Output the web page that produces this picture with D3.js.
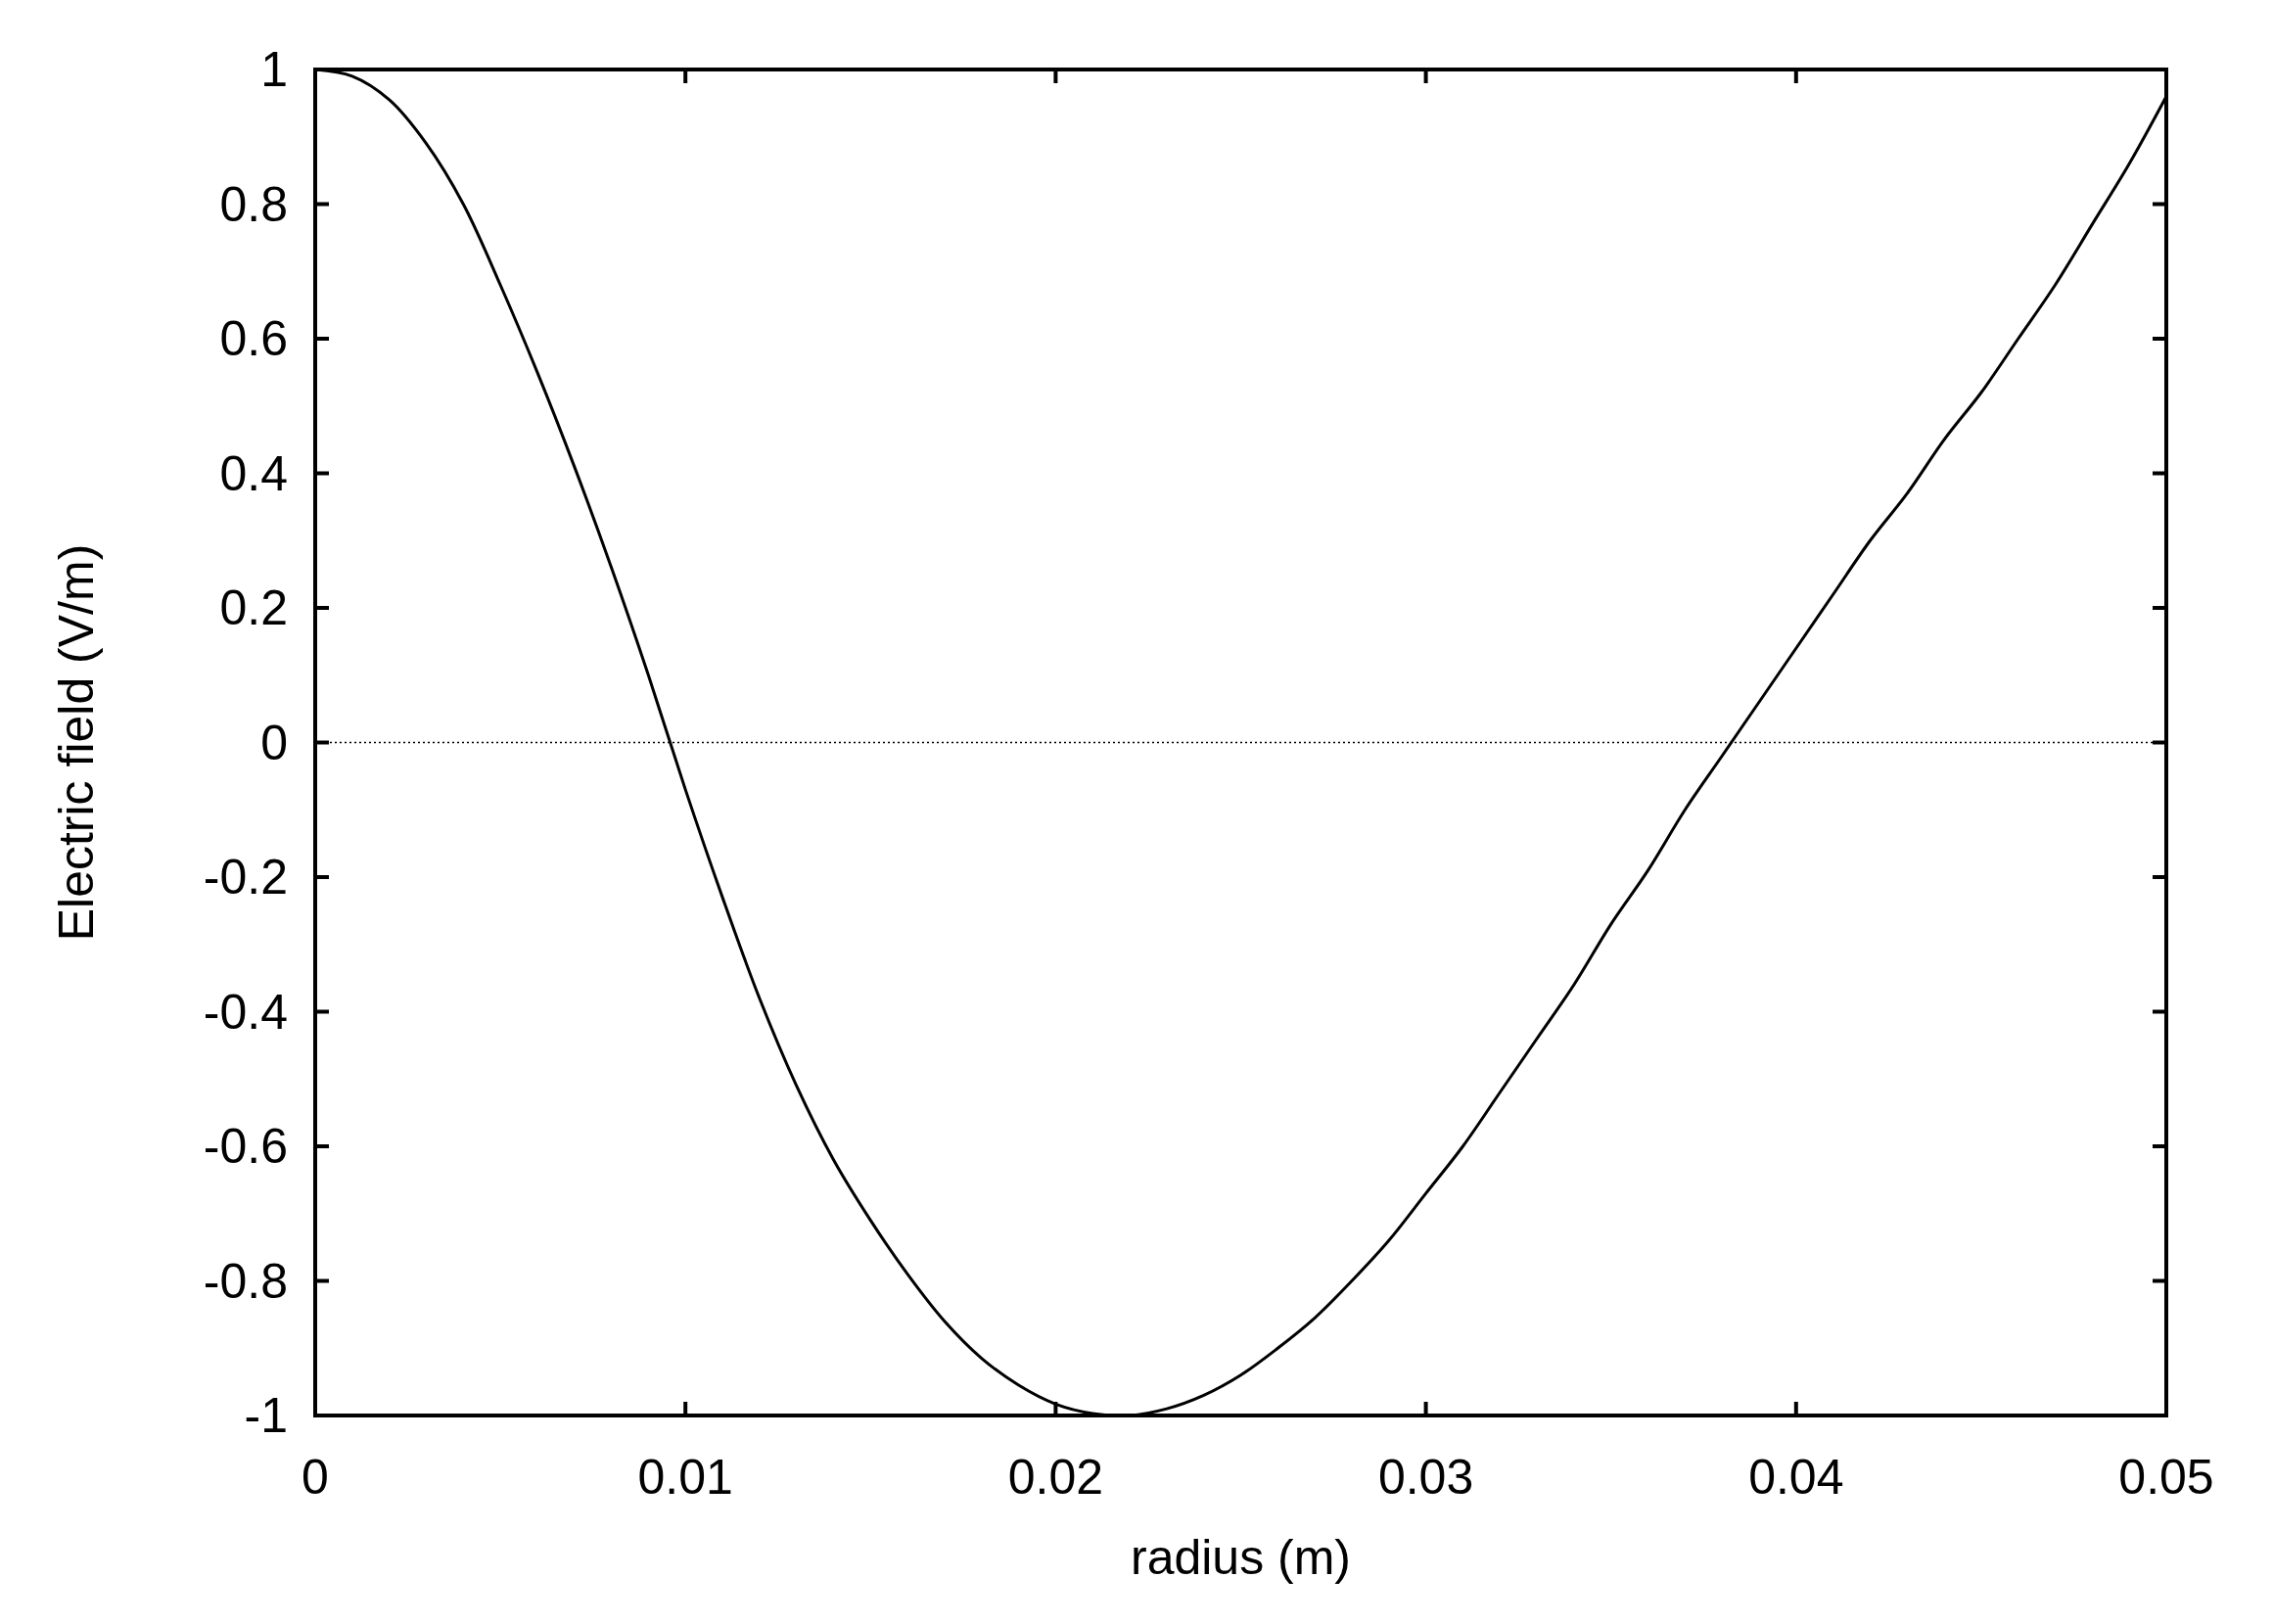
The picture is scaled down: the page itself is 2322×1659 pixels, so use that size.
<!DOCTYPE html>
<html><head><meta charset="utf-8">
<script src="https://cdn.jsdelivr.net/npm/d3@7"></script>
<style>body{margin:0;background:#fff}text{font-family:"Liberation Sans",Arial,sans-serif;fill:#000}</style>
</head><body><div id="place"></div>
<script>
const radius = [0,0.001,0.002,0.003,0.004,0.005,0.006,0.007,0.008,0.009,0.010,0.011,0.012,0.013,0.014,0.015,0.016,0.017,0.018,0.019,0.020,0.021,0.022,0.023,0.024,0.025,0.026,0.027,0.028,0.029,0.030,0.031,0.032,0.033,0.034,0.035,0.036,0.037,0.038,0.039,0.040,0.041,0.042,0.043,0.044,0.045,0.046,0.047,0.048,0.049,0.050];
const field = [1,0.99,0.955,0.89,0.80,0.68,0.55,0.41,0.26,0.10,-0.07,-0.23,-0.38,-0.51,-0.62,-0.71,-0.79,-0.86,-0.915,-0.955,-0.983,-0.997,-1.0,-0.99,-0.97,-0.94,-0.90,-0.855,-0.80,-0.74,-0.67,-0.60,-0.52,-0.44,-0.36,-0.27,-0.19,-0.10,-0.02,0.06,0.14,0.22,0.30,0.37,0.45,0.52,0.60,0.68,0.77,0.86,0.96];
const xTicks = [0,0.01,0.02,0.03,0.04,0.05];
const yTicks = [-1,-0.8,-0.6,-0.4,-0.2,0,0.2,0.4,0.6,0.8,1];

const W = 2322, H = 1659;
const margin = {top:71, right:109, bottom:213, left:322};
const svg = d3.select("#place").append("svg").attr("width",W).attr("height",H);

const x = d3.scaleLinear().domain([0,0.05]).range([margin.left, W-margin.right]);
const y = d3.scaleLinear().domain([-1,1]).range([H-margin.bottom, margin.top]);

// ticks on all four sides, gnuplot style
const tl = 14;
xTicks.forEach(t => {
  svg.append("line").attr("x1",x(t)).attr("x2",x(t)).attr("y1",y(-1)).attr("y2",y(-1)-tl).attr("stroke","#000").attr("stroke-width",4);
  svg.append("line").attr("x1",x(t)).attr("x2",x(t)).attr("y1",y(1)).attr("y2",y(1)+tl).attr("stroke","#000").attr("stroke-width",4);
  svg.append("text").attr("x",x(t)).attr("y",y(-1)+80).attr("text-anchor","middle").attr("font-size",50).text(t);
});
yTicks.forEach(t => {
  svg.append("line").attr("x1",x(0)).attr("x2",x(0)+tl).attr("y1",y(t)).attr("y2",y(t)).attr("stroke","#000").attr("stroke-width",4);
  svg.append("line").attr("x1",x(0.05)).attr("x2",x(0.05)-tl).attr("y1",y(t)).attr("y2",y(t)).attr("stroke","#000").attr("stroke-width",4);
  svg.append("text").attr("x",x(0)-28).attr("y",y(t)+17).attr("text-anchor","end").attr("font-size",50).text(t);
});

// zero line
svg.append("line").attr("x1",x(0)).attr("x2",x(0.05)).attr("y1",y(0)).attr("y2",y(0))
  .attr("stroke","#000").attr("stroke-width",1.5).attr("stroke-dasharray","2,3");

// curve
const pts = radius.map((r,i) => [r, field[i]]);
svg.append("path").datum(pts)
  .attr("d", d3.line().x(d => x(d[0])).y(d => y(d[1])).curve(d3.curveCatmullRom))
  .attr("fill","none").attr("stroke","#000").attr("stroke-width",3);

// frame
svg.append("rect").attr("x",x(0)).attr("y",y(1)).attr("width",x(0.05)-x(0)).attr("height",y(-1)-y(1))
  .attr("fill","none").attr("stroke","#000").attr("stroke-width",4);

svg.append("text").attr("x",(x(0)+x(0.05))/2).attr("y",y(-1)+162).attr("text-anchor","middle").attr("font-size",50).text("radius (m)");
svg.append("text").attr("transform",`translate(95,${(y(1)+y(-1))/2}) rotate(-90)`).attr("text-anchor","middle").attr("font-size",50).text("Electric field (V/m)");
</script></body></html>
